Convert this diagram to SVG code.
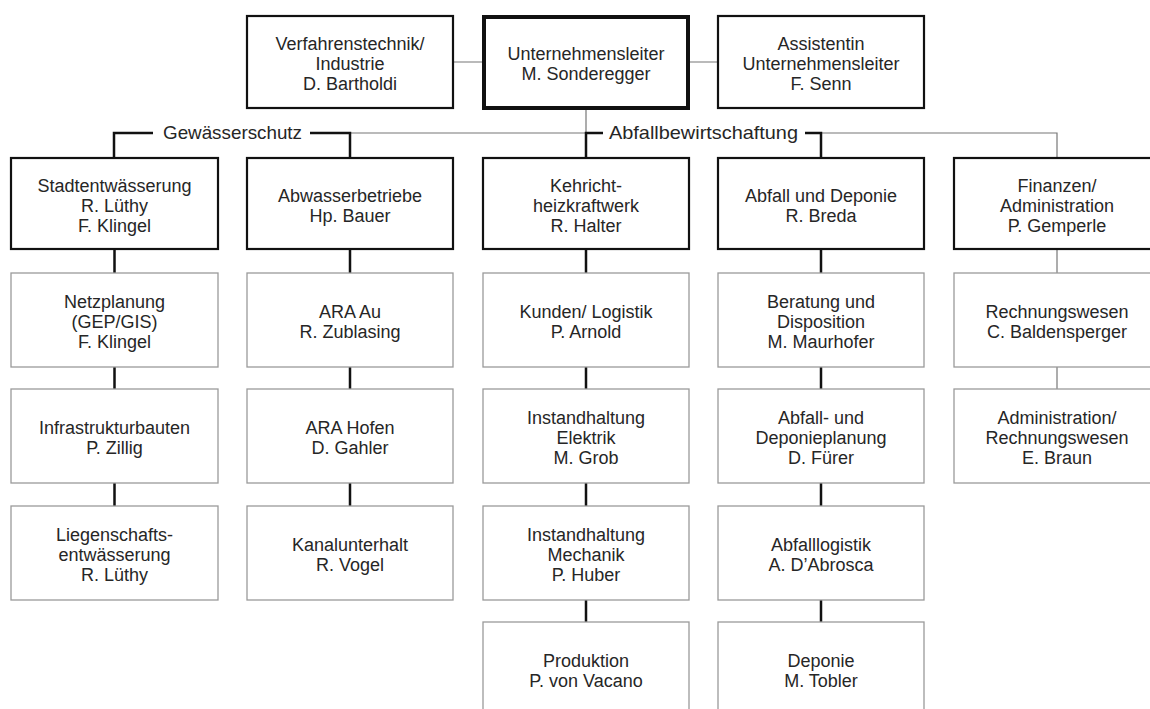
<svg xmlns="http://www.w3.org/2000/svg" width="1150" height="709" viewBox="0 0 1150 709">
<style>
text{font-family:"Liberation Sans",Arial,sans-serif;font-size:18px;fill:#262626;text-anchor:middle}
.lbl{text-anchor:start;font-size:18.5px}
.b1{fill:#fff;stroke:#111;stroke-width:2.2}
.b0{fill:#fff;stroke:#111;stroke-width:4}
.b2{fill:#fff;stroke:#9a9a9a;stroke-width:1.3}
.thick{stroke:#111;stroke-width:2.5;fill:none}
.thin{stroke:#777;stroke-width:1.2;fill:none}
</style>
<rect width="1150" height="709" fill="#fff"/>
<g id="connectors">
<path class="thin" d="M453 62H483M688 62H718M586 108V133M350 133H586M821 133H1057V158M1057 249V273M1057 367V389"/>
<path class="thick" d="M153 133H114V158M310 133H350V158M603 133H586V158M805 133H821V158"/>
<path class="thick" d="M114.5 249V273M114.5 367V389M114.5 483V506M350 249V273M350 367V389M350 483V506M586 249V273M586 367V389M586 483V506M586 600V622M821 249V273M821 367V389M821 483V506M821 600V622"/>
</g>
<g id="label-gewaesserschutz"><text class="lbl" x="163" y="139" textLength="139" lengthAdjust="spacingAndGlyphs">Gewässerschutz</text></g>
<g id="label-abfallbewirtschaftung"><text class="lbl" x="609" y="139" textLength="189" lengthAdjust="spacingAndGlyphs">Abfallbewirtschaftung</text></g>
<g id="n-verfahrenstechnik"><rect class="b1" x="247" y="16" width="206" height="92"/><text x="350" y="50">Verfahrenstechnik/</text><text x="350" y="70">Industrie</text><text x="350" y="90">D. Bartholdi</text></g>
<g id="n-unternehmensleiter"><rect class="b0" x="484" y="17" width="204" height="91"/><text x="586" y="60">Unternehmensleiter</text><text x="586" y="80">M. Sonderegger</text></g>
<g id="n-assistentin"><rect class="b1" x="718" y="16" width="206" height="92"/><text x="821" y="50">Assistentin</text><text x="821" y="70">Unternehmensleiter</text><text x="821" y="90">F. Senn</text></g>
<g id="n-stadtentwaesserung"><rect class="b1" x="11" y="158" width="207" height="91"/><text x="114.5" y="191.5">Stadtentwässerung</text><text x="114.5" y="211.5">R. Lüthy</text><text x="114.5" y="231.5">F. Klingel</text></g>
<g id="n-abwasserbetriebe"><rect class="b1" x="247" y="158" width="206" height="91"/><text x="350" y="201.5">Abwasserbetriebe</text><text x="350" y="221.5">Hp. Bauer</text></g>
<g id="n-kehricht"><rect class="b1" x="483" y="158" width="206" height="91"/><text x="586" y="191.5">Kehricht-</text><text x="586" y="211.5">heizkraftwerk</text><text x="586" y="231.5">R. Halter</text></g>
<g id="n-abfall-deponie"><rect class="b1" x="718" y="158" width="206" height="91"/><text x="821" y="201.5">Abfall und Deponie</text><text x="821" y="221.5">R. Breda</text></g>
<g id="n-finanzen"><rect class="b1" x="954" y="158" width="207" height="91"/><text x="1057" y="191.5">Finanzen/</text><text x="1057" y="211.5">Administration</text><text x="1057" y="231.5">P. Gemperle</text></g>
<g id="n-netzplanung"><rect class="b2" x="11" y="273" width="207" height="94"/><text x="114.5" y="308">Netzplanung</text><text x="114.5" y="328">(GEP/GIS)</text><text x="114.5" y="348">F. Klingel</text></g>
<g id="n-infrastruktur"><rect class="b2" x="11" y="389" width="207" height="94"/><text x="114.5" y="434">Infrastrukturbauten</text><text x="114.5" y="454">P. Zillig</text></g>
<g id="n-liegenschaft"><rect class="b2" x="11" y="506" width="207" height="94"/><text x="114.5" y="541">Liegenschafts-</text><text x="114.5" y="561">entwässerung</text><text x="114.5" y="581">R. Lüthy</text></g>
<g id="n-ara-au"><rect class="b2" x="247" y="273" width="206" height="94"/><text x="350" y="318">ARA Au</text><text x="350" y="338">R. Zublasing</text></g>
<g id="n-ara-hofen"><rect class="b2" x="247" y="389" width="206" height="94"/><text x="350" y="434">ARA Hofen</text><text x="350" y="454">D. Gahler</text></g>
<g id="n-kanal"><rect class="b2" x="247" y="506" width="206" height="94"/><text x="350" y="551">Kanalunterhalt</text><text x="350" y="571">R. Vogel</text></g>
<g id="n-kunden"><rect class="b2" x="483" y="273" width="206" height="94"/><text x="586" y="318">Kunden/ Logistik</text><text x="586" y="338">P. Arnold</text></g>
<g id="n-elektrik"><rect class="b2" x="483" y="389" width="206" height="94"/><text x="586" y="424">Instandhaltung</text><text x="586" y="444">Elektrik</text><text x="586" y="464">M. Grob</text></g>
<g id="n-mechanik"><rect class="b2" x="483" y="506" width="206" height="94"/><text x="586" y="541">Instandhaltung</text><text x="586" y="561">Mechanik</text><text x="586" y="581">P. Huber</text></g>
<g id="n-produktion"><rect class="b2" x="483" y="622" width="206" height="94"/><text x="586" y="667">Produktion</text><text x="586" y="687">P. von Vacano</text></g>
<g id="n-beratung"><rect class="b2" x="718" y="273" width="206" height="94"/><text x="821" y="308">Beratung und</text><text x="821" y="328">Disposition</text><text x="821" y="348">M. Maurhofer</text></g>
<g id="n-deponieplanung"><rect class="b2" x="718" y="389" width="206" height="94"/><text x="821" y="424">Abfall- und</text><text x="821" y="444">Deponieplanung</text><text x="821" y="464">D. Fürer</text></g>
<g id="n-abfalllogistik"><rect class="b2" x="718" y="506" width="206" height="94"/><text x="821" y="551">Abfalllogistik</text><text x="821" y="571">A. D’Abrosca</text></g>
<g id="n-deponie"><rect class="b2" x="718" y="622" width="206" height="94"/><text x="821" y="667">Deponie</text><text x="821" y="687">M. Tobler</text></g>
<g id="n-rechnungswesen"><rect class="b2" x="954" y="273" width="207" height="94"/><text x="1057" y="318">Rechnungswesen</text><text x="1057" y="338">C. Baldensperger</text></g>
<g id="n-administration"><rect class="b2" x="954" y="389" width="207" height="94"/><text x="1057" y="424">Administration/</text><text x="1057" y="444">Rechnungswesen</text><text x="1057" y="464">E. Braun</text></g>
</svg>
